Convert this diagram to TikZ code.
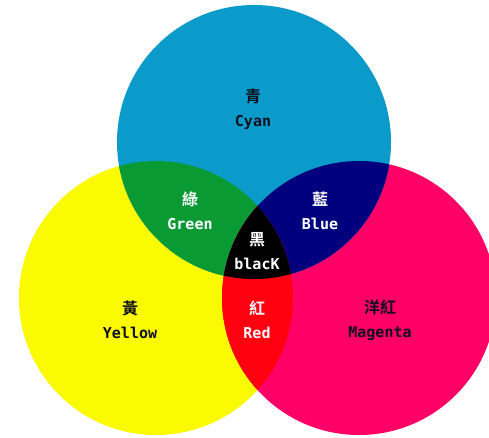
\documentclass[tikz,border=0pt]{standalone}
\usepackage{fontspec}
\setmonofont{DejaVu Sans Mono}
\newfontfamily\cjk{Noto Sans CJK TC}[BoldFont={Noto Sans CJK TC Bold}]
\definecolor{ccyan}{HTML}{0A9BCB}
\definecolor{cyellow}{HTML}{FAFA00}
\definecolor{cmagenta}{HTML}{FF0066}
\definecolor{cgreen}{HTML}{0A9A34}
\definecolor{cblue}{HTML}{00007E}
\definecolor{cred}{HTML}{FF0010}
\definecolor{cink}{HTML}{101020}
\tikzset{
  every picture/.style={x=1pt, y=-1pt},
  lbl/.style={text=#1, align=center, inner sep=0pt, font=\ttfamily\bfseries\fontsize{15}{24}\selectfont},
  lbl/.default=cink,
}
\newcommand{\zh}[1]{{\cjk\bfseries\fontsize{16}{24}\selectfont #1}}

\begin{document}
\begin{tikzpicture}
  \useasboundingbox[fill=white] (0,0) rectangle (489,437);
  \coordinate (c) at (254,142);
  \coordinate (y) at (156,298);
  \coordinate (m) at (359,298);
  \def\rad{137}
  % the three inks
  \fill[cyellow] (y) circle (\rad);
  \fill[cmagenta] (m) circle (\rad);
  \fill[ccyan] (c) circle (\rad);
  % overlaps
  \begin{scope}
    \clip (c) circle (\rad);
    \fill[cgreen] (y) circle (\rad);
    \fill[cblue] (m) circle (\rad);
  \end{scope}
  \begin{scope}
    \clip (y) circle (\rad);
    \fill[cred] (m) circle (\rad);
    \clip (c) circle (\rad);
    \fill[black] (m) circle (\rad);
  \end{scope}
  \node[lbl] (cyan-lbl) at (253,109) {\zh{青}\\Cyan};
  \node[lbl=white] (green-lbl) at (190,211) {\zh{綠}\\Green};
  \node[lbl=white] (blue-lbl) at (320,211) {\zh{藍}\\Blue};
  \node[lbl=white] (black-lbl) at (257,251) {\zh{黑}\\blacK};
  \node[lbl] (yellow-lbl) at (130,320) {\zh{黃}\\Yellow};
  \node[lbl=white!88!pink] (red-lbl) at (257,320) {\zh{紅}\\Red};
  \node[lbl] (magenta-lbl) at (380,320) {\zh{洋紅}\\Magenta};
\end{tikzpicture}
\end{document}
